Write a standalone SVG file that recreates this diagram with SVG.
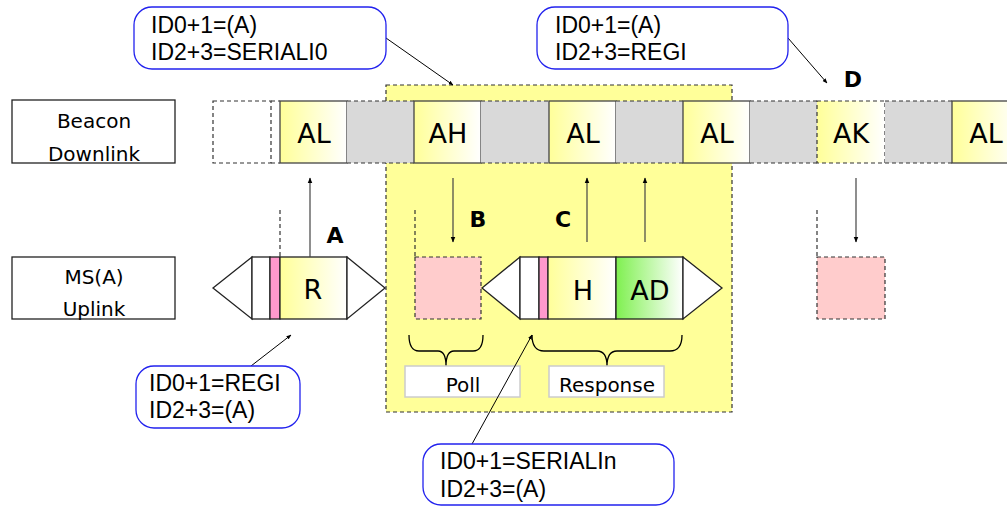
<svg xmlns="http://www.w3.org/2000/svg" width="1007" height="506" viewBox="0 0 1007 506">
<defs>
<linearGradient id="gy" x1="0" y1="0" x2="1" y2="0"><stop offset="0" stop-color="#ffff99"/><stop offset="1" stop-color="#ffffff"/></linearGradient>
<linearGradient id="gg" x1="0" y1="0" x2="1" y2="0"><stop offset="0" stop-color="#7ff050"/><stop offset="1" stop-color="#ffffff"/></linearGradient>
<marker id="ah" viewBox="0 0 10 10" refX="9" refY="5" markerWidth="5" markerHeight="5" orient="auto"><path d="M0,1 L10,5 L0,9 z" fill="#000"/></marker>
<style>
.lbl{fill:#fff;stroke:#222;stroke-width:1.3}
.cell{stroke:#444;stroke-width:1.3}
.dash{stroke:#333;stroke-width:1.2;stroke-dasharray:4,3;fill:none}
.dbox{stroke:#333;stroke-width:1.2;stroke-dasharray:4,3}
.gray{fill:#d9d9d9}
.ct{font-family:"DejaVu Sans",sans-serif;font-size:27px;text-anchor:middle;fill:#000}
.lt{font-family:"DejaVu Sans",sans-serif;font-size:20px;text-anchor:middle;fill:#000}
.big{font-family:"DejaVu Sans",sans-serif;font-size:22px;font-weight:bold;text-anchor:middle;fill:#000}
.call{fill:#fff;stroke:#2222ee;stroke-width:1.3}
.cat{font-family:"Liberation Sans",Arial,sans-serif;font-size:23px;fill:#000}
.arr{stroke:#444;stroke-width:1.2;fill:none;marker-end:url(#ah)}
.cl{stroke:#000;stroke-width:1;fill:none;marker-end:url(#ah)}
.pk{stroke:#222;stroke-width:1.3}
.brace{stroke:#000;stroke-width:1.3;fill:none}
.tb{fill:#fff;stroke:#ccc;stroke-width:1.5}
.pt{font-family:"DejaVu Sans",sans-serif;font-size:20px;text-anchor:middle;fill:#000}
</style>
</defs>

<g id="highlight">
<rect x="386" y="85" width="346" height="327" fill="#ffff99" stroke="#333" stroke-width="1.2" stroke-dasharray="4,3"/>
</g>

<g id="beacon-label"><rect class="lbl" x="12" y="100" width="163" height="63"/><text class="lt" x="94" y="128">Beacon</text><text class="lt" x="94" y="161">Downlink</text></g>
<g id="ms-label"><rect class="lbl" x="12" y="257" width="163" height="62"/><text class="lt" x="94" y="284">MS(A)</text><text class="lt" x="94" y="316">Uplink</text></g>

<g id="beacon-row">
<rect x="213" y="101" width="58" height="62" fill="#fff" class="dbox"/>
<line x1="271" y1="101" x2="280" y2="101" class="dash"/>
<line x1="271" y1="163" x2="280" y2="163" class="dash"/>
<g id="c-al1"><rect class="cell" x="280" y="101" width="67" height="62" fill="url(#gy)"/><text class="ct" x="314" y="143">AL</text></g>
<g id="g1"><rect class="gray" x="347" y="101" width="67" height="62"/><path class="dash" d="M347,101 H414 M347,163 H414"/></g>
<g id="c-ah"><rect class="cell" x="414" y="101" width="67" height="62" fill="url(#gy)"/><text class="ct" x="448" y="143">AH</text></g>
<g id="g2"><rect class="gray" x="481" y="101" width="68" height="62"/><path class="dash" d="M481,101 H549 M481,163 H549"/></g>
<g id="c-al2"><rect class="cell" x="549" y="101" width="67" height="62" fill="url(#gy)"/><text class="ct" x="583" y="143">AL</text></g>
<g id="g3"><rect class="gray" x="616" y="101" width="67" height="62"/><path class="dash" d="M616,101 H683 M616,163 H683"/></g>
<g id="c-al3"><rect class="cell" x="683" y="101" width="67" height="62" fill="url(#gy)"/><text class="ct" x="717" y="143">AL</text></g>
<g id="g4"><rect class="gray" x="750" y="101" width="67" height="62"/><path class="dash" d="M750,101 H817 M750,163 H817"/></g>
<g id="c-ak"><rect x="817" y="101" width="68" height="62" fill="url(#gy)" class="dbox"/><text class="ct" x="851" y="143">AK</text></g>
<g id="g5"><rect class="gray" x="885" y="101" width="67" height="62"/><path class="dash" d="M885,101 H952 M885,163 H952"/></g>
<g id="c-al4"><rect class="cell" x="952" y="101" width="67" height="62" fill="url(#gy)"/><text class="ct" x="986" y="143">AL</text></g>
</g>

<g id="packet-r">
<path class="pk" fill="#fff" d="M252,257 L213,288 L252,319 Z"/>
<rect class="pk" x="252" y="257" width="18" height="62" fill="#fff"/>
<rect class="pk" x="270" y="257" width="10" height="62" fill="#ff99cc"/>
<rect class="pk" x="280" y="257" width="67" height="62" fill="url(#gy)"/>
<path class="pk" fill="#fff" d="M347,257 L385,288 L347,319 Z"/>
<text class="ct" x="313" y="299">R</text>
</g>

<g id="poll-slot"><rect x="415" y="257" width="66" height="62" fill="#ffcccc" class="dbox"/></g>

<g id="packet-resp">
<path class="pk" fill="#fff" d="M520,257 L482,288 L520,319 Z"/>
<rect class="pk" x="520" y="257" width="19" height="62" fill="#fff"/>
<rect class="pk" x="539" y="257" width="9" height="62" fill="#ff99cc"/>
<rect class="pk" x="548" y="257" width="68" height="62" fill="url(#gy)"/>
<rect class="pk" x="616" y="257" width="67" height="62" fill="url(#gg)"/>
<path class="pk" fill="#fff" d="M683,257 L722,288 L683,319 Z"/>
<text class="ct" x="583" y="300">H</text>
<text class="ct" x="650" y="300">AD</text>
</g>

<g id="ak-slot"><rect x="817" y="257" width="68" height="62" fill="#ffcccc" class="dbox"/></g>

<g id="markers">
<line x1="280" y1="210" x2="280" y2="257" class="dash"/>
<line x1="415" y1="210" x2="415" y2="257" class="dash"/>
<line x1="817" y1="210" x2="817" y2="257" class="dash"/>
<text class="big" x="335" y="243">A</text>
<text class="big" x="478" y="227">B</text>
<text class="big" x="563" y="227">C</text>
<text class="big" x="853" y="87">D</text>
</g>

<g id="braces">
<path class="brace" d="M409,335 Q409,351 419,351 L438,351 Q446,351 446,366 Q446,351 454,351 L473,351 Q483,351 483,335"/>
<path class="brace" d="M532,335 Q532,351 544,351 L597,351 Q607,351 607,366 Q607,351 617,351 L670,351 Q682,351 682,335"/>
</g>
<g id="poll-tag"><rect class="tb" x="405" y="366" width="115" height="31"/><text class="pt" x="463" y="392">Poll</text></g>
<g id="resp-tag"><rect class="tb" x="549" y="366" width="115" height="31"/><text class="pt" x="607" y="392">Response</text></g>

<g id="connectors">
<line class="arr" x1="310" y1="257" x2="310" y2="178"/>
<line class="arr" x1="453" y1="178" x2="453" y2="242"/>
<line class="arr" x1="587" y1="242" x2="587" y2="178"/>
<line class="arr" x1="645" y1="242" x2="645" y2="178"/>
<line class="arr" x1="856" y1="178" x2="856" y2="242"/>
<line class="cl" x1="386" y1="38" x2="453" y2="85"/>
<line class="cl" x1="788" y1="38" x2="827" y2="83"/>
<line class="cl" x1="251" y1="366" x2="291" y2="335"/>
<line class="cl" x1="472" y1="444" x2="532" y2="335"/>
</g>

<g id="callout-1"><rect class="call" x="134" y="7" width="252" height="62" rx="18"/><text class="cat" x="151" y="33">ID0+1=(A)</text><text class="cat" x="151" y="60">ID2+3=SERIALI0</text></g>
<g id="callout-2"><rect class="call" x="537" y="7" width="251" height="62" rx="18"/><text class="cat" x="555" y="33">ID0+1=(A)</text><text class="cat" x="555" y="60">ID2+3=REGI</text></g>
<g id="callout-3"><rect class="call" x="136" y="366" width="164" height="62" rx="18"/><text class="cat" x="149" y="391">ID0+1=REGI</text><text class="cat" x="149" y="418">ID2+3=(A)</text></g>
<g id="callout-4"><rect class="call" x="423" y="444" width="251" height="61" rx="18"/><text class="cat" x="440" y="469">ID0+1=SERIALIn</text><text class="cat" x="440" y="497">ID2+3=(A)</text></g>
</svg>
